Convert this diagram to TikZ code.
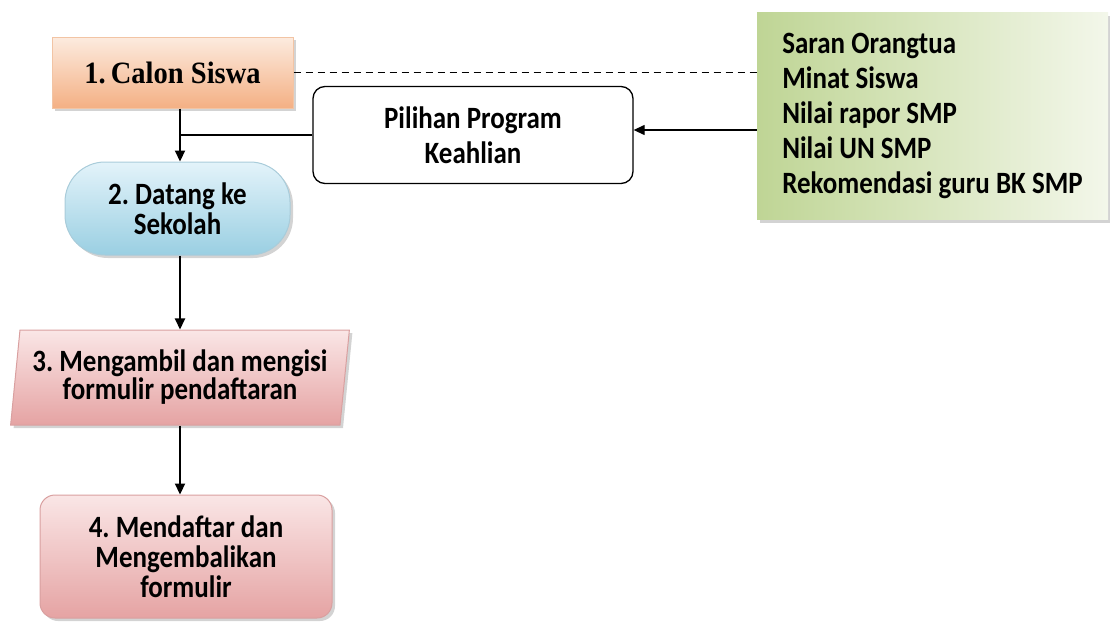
\documentclass[tikz,border=0pt]{standalone}
\usepackage{fontspec}
\setmainfont{Carlito}[FakeStretch=0.87]
\newfontfamily\calonfont{Liberation Serif}[FakeStretch=0.92]
\usetikzlibrary{shapes.geometric,arrows.meta,shadows}
\frenchspacing

\definecolor{calontop}{HTML}{FCEBDF}
\definecolor{calonbot}{HTML}{F4B084}
\definecolor{calonline}{HTML}{F2C4A4}
\definecolor{datangtop}{HTML}{E3F3FA}
\definecolor{datangbot}{HTML}{9ACFE2}
\definecolor{datangline}{HTML}{A9CCDA}
\definecolor{formtop}{HTML}{FAE6E6}
\definecolor{formbot}{HTML}{E5A3A3}
\definecolor{formline}{HTML}{D9A0A0}
\definecolor{faktorl}{HTML}{BFD595}
\definecolor{faktorr}{HTML}{F3F7EA}

\begin{document}
\begin{tikzpicture}[x=1pt,y=-1pt]
\tikzset{ >={Triangle[length=11pt,width=10pt]},
  txt/.style={font=\fontsize{31}{30}\selectfont\bfseries, align=center, inner sep=0pt},
  shad/.style={drop shadow={shadow xshift=3pt, shadow yshift=-3pt, opacity=0.35}},
  spinearrow/.style={->, line width=2.2pt},
}
\useasboundingbox (0,0) rectangle (1110,621);

\coordinate (spine) at (180,0);

\node [txt, shad, draw=calonline, line width=1pt, top color=calontop, bottom color=calonbot,
       minimum width=241, minimum height=71,
       font=\calonfont\fontsize{31}{34}\selectfont\bfseries] (calon) at (172.5,72.5) {1.\,Calon Siswa};

\node [txt, shad, draw=datangline, line width=1pt, top color=datangtop, bottom color=datangbot,
       rounded corners=40pt, minimum width=225, minimum height=93] (datang) at (177.5,208.5) {2. Datang ke\\Sekolah};

\node [txt, shad, draw=formline, line width=1pt, top color=formtop, bottom color=formbot,
       shape=trapezium, trapezium left angle=81, trapezium right angle=99, trapezium stretches=true,
       minimum width=340, minimum height=95, font=\fontsize{31}{28}\selectfont\bfseries] (form) at (180,377.5) {3. Mengambil dan mengisi\\formulir pendaftaran};

\node [txt, shad, draw=formline, line width=1pt, top color=formtop, bottom color=formbot,
       rounded corners=15pt, minimum width=292, minimum height=123] (daftar) at (186,556.5) {4. Mendaftar dan\\Mengembalikan\\formulir};

\node [txt, draw, line width=1.3pt, fill=white, rounded corners=12pt,
       minimum width=320, minimum height=97, font=\fontsize{31}{35}\selectfont\bfseries] (pilihan) at (473,135) {Pilihan Program\\Keahlian};

\node [txt, shad, left color=faktorl, right color=faktorr, align=left,
       minimum width=351, minimum height=207,
       font=\fontsize{31}{35}\selectfont\bfseries] (faktor) at (932.5,116)
       {Saran Orangtua\\Minat Siswa\\Nilai rapor SMP\\Nilai UN SMP\\Rekomendasi guru BK SMP};

\draw [dashed, line width=1.5pt, dash pattern=on 7pt off 5pt] (calon.east) -- (calon.east -| faktor.west);
\draw [->, line width=1.3pt] (faktor.west |- 0,130) -- (pilihan.east |- 0,130);
\draw [line width=1.3pt] (pilihan.west) -- (pilihan.west -| spine);

\draw [spinearrow] (calon.south -| spine)  -- (datang.north -| spine);
\draw [spinearrow] (datang.south -| spine) -- (form.north -| spine);
\draw [spinearrow] (form.south -| spine)   -- (daftar.north -| spine);

\end{tikzpicture}
\end{document}
